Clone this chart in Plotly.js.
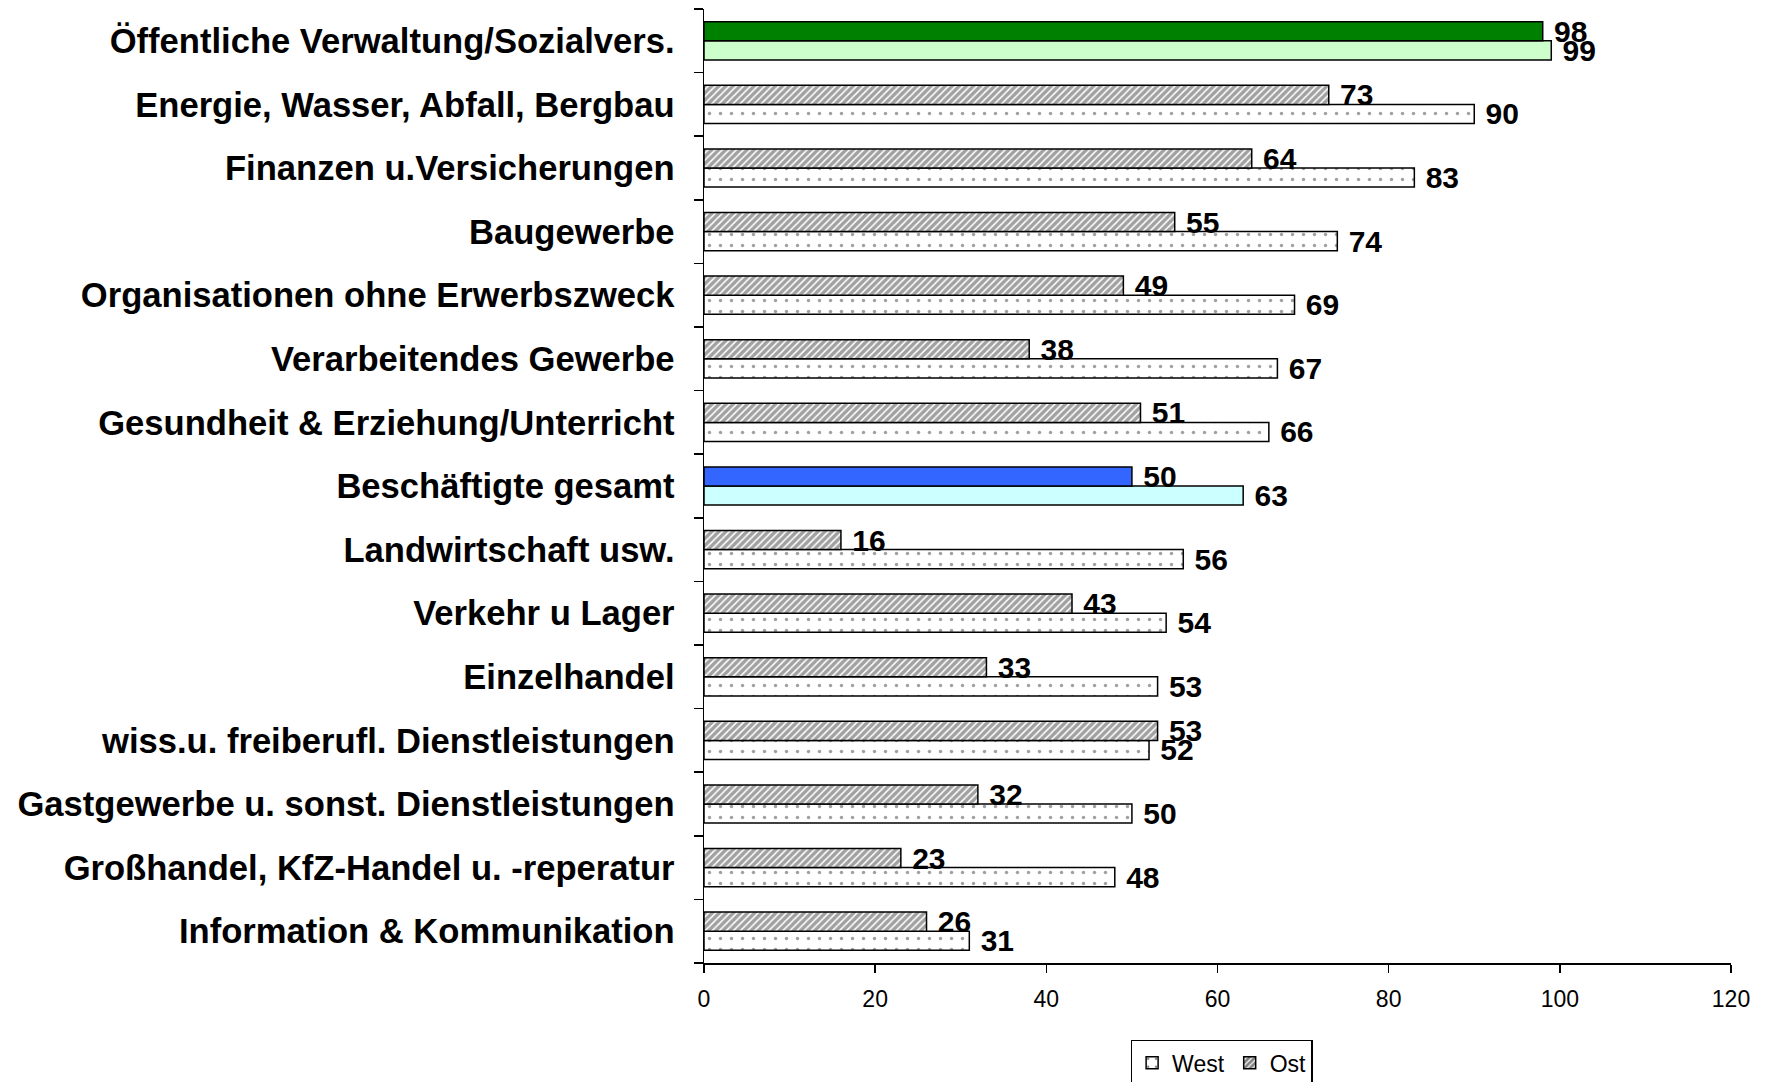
<!DOCTYPE html>
<html>
<head>
<meta charset="utf-8">
<script src="https://cdn.plot.ly/plotly-3.0.1.min.js"></script>
<style>html,body{margin:0;padding:0;background:#fff;}#chart{width:1766px;height:1082px;}</style>
</head>
<body>
<div id="chart"></div>
<script>
// Categories listed top to bottom as in the picture
const categories = [
  "Öffentliche Verwaltung/Sozialvers.",
  "Energie, Wasser, Abfall, Bergbau",
  "Finanzen u.Versicherungen",
  "Baugewerbe",
  "Organisationen ohne Erwerbszweck",
  "Verarbeitendes Gewerbe",
  "Gesundheit & Erziehung/Unterricht",
  "Beschäftigte gesamt",
  "Landwirtschaft usw.",
  "Verkehr u Lager",
  "Einzelhandel",
  "wiss.u. freiberufl. Dienstleistungen",
  "Gastgewerbe u. sonst. Dienstleistungen",
  "Großhandel, KfZ-Handel u. -reperatur",
  "Information & Kommunikation"
];
const westValues = [99, 90, 83, 74, 69, 67, 66, 63, 56, 54, 53, 52, 50, 48, 31];
const ostValues  = [98, 73, 64, 55, 49, 38, 51, 50, 16, 43, 33, 53, 32, 23, 26];
const seriesNames = ["West", "Ost"];
const xTicks = [0, 20, 40, 60, 80, 100, 120];

// plot bottom-to-top so the first point (legend swatch) is a patterned bar
const cats = categories.slice().reverse();
const west = westValues.slice().reverse();
const ost = ostValues.slice().reverse();

const specialWest = {"Öffentliche Verwaltung/Sozialvers.": "#CCFFCC", "Beschäftigte gesamt": "#CCFFFF"};
const specialOst  = {"Öffentliche Verwaltung/Sozialvers.": "#008000", "Beschäftigte gesamt": "#3366FF"};

const westColors = cats.map(c => specialWest[c] || "#FFFFFF");
const westShapes = cats.map(c => specialWest[c] ? "" : ".");
const ostColors = cats.map(c => specialOst[c] || "#FFFFFF");
const ostShapes = cats.map(c => specialOst[c] ? "" : "/");

const labelFont = {family: "Liberation Sans, Arial, sans-serif", size: 30, color: "#000", weight: "bold"};

const traces = [
  {
    type: "bar", orientation: "h", name: seriesNames[0],
    y: cats, x: west,
    texttemplate: " %{x}", textposition: "outside", cliponaxis: false,
    constraintext: "none", textfont: labelFont,
    marker: {
      color: westColors,
      line: {color: "#000", width: 1.5},
      pattern: {shape: westShapes, fillmode: "overlay", fgcolor: "#000", size: 11, solidity: 0.08}
    },
    hoverinfo: "x+y"
  },
  {
    type: "bar", orientation: "h", name: seriesNames[1],
    y: cats, x: ost,
    texttemplate: " %{x}", textposition: "outside", cliponaxis: false,
    constraintext: "none", textfont: labelFont,
    marker: {
      color: ostColors,
      line: {color: "#000", width: 1.5},
      pattern: {shape: ostShapes, fillmode: "overlay", fgcolor: "#000", size: 5, solidity: 0.7}
    },
    hoverinfo: "x+y"
  }
];

const layout = {
  width: 1766, height: 1082,
  margin: {l: 704, r: 35, t: 9, b: 119, pad: 0},
  paper_bgcolor: "#fff", plot_bgcolor: "#fff",
  barmode: "group", bargap: 0.4, bargroupgap: 0,
  showlegend: true,
  legend: {
    orientation: "h", xref: "paper", x: 0.504, xanchor: "center",
    yref: "container", y: 0.039, yanchor: "top",
    bordercolor: "#000", borderwidth: 1.5, bgcolor: "#fff",
    font: {family: "Liberation Sans, Arial, sans-serif", size: 23, color: "#000"},
    itemwidth: 30
  },
  xaxis: {
    range: [0, 120], tickvals: xTicks, ticktext: xTicks.map(String),
    showgrid: false, zeroline: false,
    showline: true, linecolor: "#000", linewidth: 1.5,
    ticks: "outside", ticklen: 8, tickcolor: "#000", tickwidth: 1.5,
    ticklabelstandoff: 7,
    tickfont: {family: "Liberation Sans, Arial, sans-serif", size: 23, color: "#000"},
    fixedrange: true
  },
  yaxis: {
    type: "category", categoryorder: "array", categoryarray: cats,
    showgrid: false, zeroline: false,
    showline: true, linecolor: "#000", linewidth: 1.5,
    ticks: "outside", ticklen: 9, tickcolor: "#000", tickwidth: 1.5,
    tickson: "boundaries", ticklabelstandoff: 21,
    tickfont: {family: "Liberation Sans, Arial, sans-serif", size: 34.6, color: "#000", weight: "bold"},
    fixedrange: true
  },
  font: {family: "Liberation Sans, Arial, sans-serif", color: "#000"}
};

Plotly.newPlot("chart", traces, layout, {displayModeBar: false, staticPlot: true});
</script>
</body>
</html>
